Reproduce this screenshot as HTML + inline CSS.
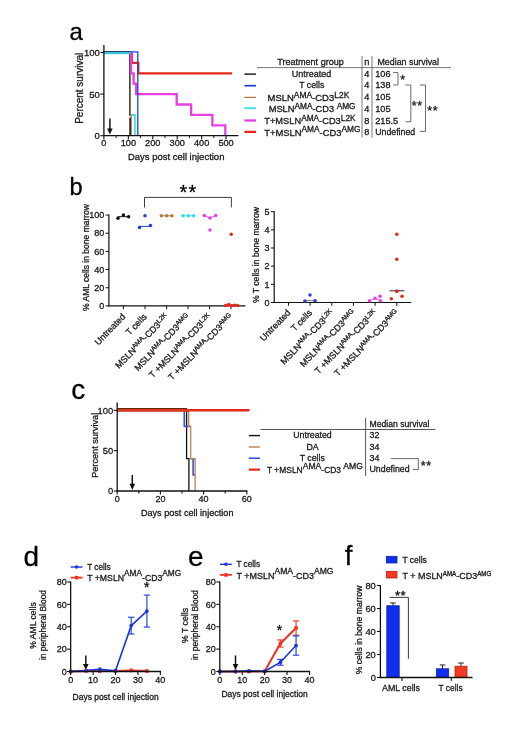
<!DOCTYPE html>
<html lang="en">
<head>
<meta charset="utf-8">
<title>Figure</title>
<style>
html,body{margin:0;padding:0;background:#ffffff;}
body{width:520px;height:751px;overflow:hidden;}
svg{display:block;font-family:"Liberation Sans", Arial, Helvetica, sans-serif;}
svg text{stroke:#1a1a1a;stroke-width:0.3px;paint-order:stroke fill;}
</style>
</head>
<body>
<svg width="520" height="751" viewBox="0 0 520 751">
<defs><filter id="soft" x="0" y="0" width="520" height="751" filterUnits="userSpaceOnUse" color-interpolation-filters="sRGB"><feGaussianBlur stdDeviation="0.4"/></filter></defs>
<rect x="0" y="0" width="520" height="751" fill="#ffffff"/>
<g filter="url(#soft)">
<rect x="0" y="0" width="520" height="751" fill="#ffffff"/>
<g id="panel-a">
<text x="69.5" y="39.5" font-size="24" text-anchor="start" fill="#000" >a</text>
<path d="M130.0,53.1 V114.9 H134.93 V135.7" stroke="#35dced" stroke-width="1.6" fill="none" stroke-linejoin="miter" stroke-linecap="butt"/>
<path d="M130.2,52.5 V114.9 H131.2 V135.7" stroke="#b5783f" stroke-width="1.3" fill="none" stroke-linejoin="miter" stroke-linecap="butt"/>
<path d="M129.7,52.5 V115.73" stroke="#3a3424" stroke-width="1.0" fill="none" stroke-linejoin="miter" stroke-linecap="butt"/>
<path d="M130.1,117.4 V135.7" stroke="#111111" stroke-width="1.5" fill="none" stroke-linejoin="miter" stroke-linecap="butt"/>
<path d="M131.8,52.5 V62.9 H138.3 V73.3 H232.16" stroke="#e6281a" stroke-width="2.3" fill="none" stroke-linejoin="miter" stroke-linecap="butt"/>
<path d="M131.1,51.7 V73.3 H133.6 V83.7 H136.2 V94.1 H176.7 V104.5 H191.12 V114.9 H212.37 V125.3 H225.32 V135.7" stroke="#e83fe3" stroke-width="2.3" fill="none" stroke-linejoin="miter" stroke-linecap="butt"/>
<path d="M103.9,51.8 H137.8 V135.7" stroke="#1f3fd6" stroke-width="1.3" fill="none" stroke-linejoin="miter" stroke-linecap="butt"/>
<line x1="103.9" y1="51.6" x2="130.2" y2="51.6" stroke="#1a2a55" stroke-width="1.0" stroke-linecap="butt"/>
<line x1="103.9" y1="53.05" x2="130.4" y2="53.05" stroke="#3fc4d8" stroke-width="2.3" stroke-linecap="butt"/>
<line x1="103.9" y1="45" x2="103.9" y2="136.29999999999998" stroke="#111111" stroke-width="1.3" stroke-linecap="butt"/>
<line x1="103.30000000000001" y1="135.7" x2="238.5" y2="135.7" stroke="#111111" stroke-width="1.3" stroke-linecap="butt"/>
<line x1="100.4" y1="52.5" x2="103.9" y2="52.5" stroke="#111111" stroke-width="1.1" stroke-linecap="butt"/>
<text x="99.9" y="55.9" font-size="9.6" text-anchor="end" fill="#1a1a1a" >100</text>
<line x1="100.4" y1="94.1" x2="103.9" y2="94.1" stroke="#111111" stroke-width="1.1" stroke-linecap="butt"/>
<text x="99.9" y="97.5" font-size="9.6" text-anchor="end" fill="#1a1a1a" >50</text>
<line x1="100.4" y1="135.7" x2="103.9" y2="135.7" stroke="#111111" stroke-width="1.1" stroke-linecap="butt"/>
<text x="99.9" y="139.1" font-size="9.6" text-anchor="end" fill="#1a1a1a" >0</text>
<line x1="116.12" y1="135.7" x2="116.12" y2="138.1" stroke="#111111" stroke-width="1.0" stroke-linecap="butt"/>
<line x1="140.55" y1="135.7" x2="140.55" y2="138.1" stroke="#111111" stroke-width="1.0" stroke-linecap="butt"/>
<line x1="164.97" y1="135.7" x2="164.97" y2="138.1" stroke="#111111" stroke-width="1.0" stroke-linecap="butt"/>
<line x1="189.41" y1="135.7" x2="189.41" y2="138.1" stroke="#111111" stroke-width="1.0" stroke-linecap="butt"/>
<line x1="213.84" y1="135.7" x2="213.84" y2="138.1" stroke="#111111" stroke-width="1.0" stroke-linecap="butt"/>
<line x1="103.9" y1="135.7" x2="103.9" y2="139.2" stroke="#111111" stroke-width="1.1" stroke-linecap="butt"/>
<text x="103.9" y="146.29999999999998" font-size="9.2" text-anchor="middle" fill="#1a1a1a" >0</text>
<line x1="128.33" y1="135.7" x2="128.33" y2="139.2" stroke="#111111" stroke-width="1.1" stroke-linecap="butt"/>
<text x="128.33" y="146.29999999999998" font-size="9.2" text-anchor="middle" fill="#1a1a1a" >100</text>
<line x1="152.76" y1="135.7" x2="152.76" y2="139.2" stroke="#111111" stroke-width="1.1" stroke-linecap="butt"/>
<text x="152.76" y="146.29999999999998" font-size="9.2" text-anchor="middle" fill="#1a1a1a" >200</text>
<line x1="177.19" y1="135.7" x2="177.19" y2="139.2" stroke="#111111" stroke-width="1.1" stroke-linecap="butt"/>
<text x="177.19" y="146.29999999999998" font-size="9.2" text-anchor="middle" fill="#1a1a1a" >300</text>
<line x1="201.62" y1="135.7" x2="201.62" y2="139.2" stroke="#111111" stroke-width="1.1" stroke-linecap="butt"/>
<text x="201.62" y="146.29999999999998" font-size="9.2" text-anchor="middle" fill="#1a1a1a" >400</text>
<line x1="226.05" y1="135.7" x2="226.05" y2="139.2" stroke="#111111" stroke-width="1.1" stroke-linecap="butt"/>
<text x="226.05" y="146.29999999999998" font-size="9.2" text-anchor="middle" fill="#1a1a1a" >500</text>
<text x="82.6" y="88.3" font-size="10" text-anchor="middle" fill="#1a1a1a" transform="rotate(-90 82.6 88.3)" textLength="71" lengthAdjust="spacingAndGlyphs" >Percent survival</text>
<text x="176.2" y="159.6" font-size="9.6" text-anchor="middle" fill="#1a1a1a" textLength="96.5" lengthAdjust="spacingAndGlyphs" >Days post cell injection</text>
<line x1="109.9" y1="118.5" x2="109.9" y2="129.4" stroke="#111111" stroke-width="1.5" stroke-linecap="butt"/>
<polygon points="107.10000000000001,128.4 112.7,128.4 109.9,134.6" fill="#111111"/>
<line x1="244.4" y1="74.1" x2="256" y2="74.1" stroke="#111111" stroke-width="1.4" stroke-linecap="butt"/>
<line x1="244.4" y1="85.7" x2="256" y2="85.7" stroke="#1f3fd6" stroke-width="1.7" stroke-linecap="butt"/>
<line x1="244.4" y1="97.4" x2="256" y2="97.4" stroke="#b5783f" stroke-width="1.3" stroke-linecap="butt"/>
<line x1="244.4" y1="108.2" x2="256" y2="108.2" stroke="#35dced" stroke-width="1.8" stroke-linecap="butt"/>
<line x1="244.4" y1="120.5" x2="256" y2="120.5" stroke="#e83fe3" stroke-width="2.3" stroke-linecap="butt"/>
<line x1="244.4" y1="131.9" x2="256" y2="131.9" stroke="#e6281a" stroke-width="2.3" stroke-linecap="butt"/>
<text x="310.5" y="64.8" font-size="9.2" text-anchor="middle" fill="#1a1a1a" textLength="66.5" lengthAdjust="spacingAndGlyphs" >Treatment group</text>
<text x="366.8" y="64.8" font-size="9.2" text-anchor="middle" fill="#1a1a1a" >n</text>
<text x="377.5" y="64.8" font-size="9.2" text-anchor="start" fill="#1a1a1a" textLength="61.5" lengthAdjust="spacingAndGlyphs" >Median survival</text>
<line x1="257" y1="67.6" x2="451" y2="67.6" stroke="#555" stroke-width="0.8" stroke-linecap="butt"/>
<line x1="362" y1="56" x2="362" y2="137.5" stroke="#555" stroke-width="0.8" stroke-linecap="butt"/>
<line x1="372" y1="56" x2="372" y2="137.5" stroke="#555" stroke-width="0.8" stroke-linecap="butt"/>
<text x="311.5" y="76.9" font-size="9.2" text-anchor="middle" fill="#1a1a1a" textLength="39.5" lengthAdjust="spacingAndGlyphs" >Untreated</text>
<text x="311.8" y="88.2" font-size="9.2" text-anchor="middle" fill="#1a1a1a" textLength="25" lengthAdjust="spacingAndGlyphs" >T cells</text>
<text x="308.4" y="100.69999999999999" font-size="9.2" text-anchor="middle" fill="#1a1a1a" textLength="81.8" lengthAdjust="spacingAndGlyphs" >MSLN<tspan font-size="8.2" dy="-3.2">AMA</tspan><tspan dy="3.2">-CD3</tspan><tspan font-size="8.2" dy="-3.2">L2K</tspan></text>
<text x="312.1" y="112.19999999999999" font-size="9.2" text-anchor="middle" fill="#1a1a1a" textLength="86.8" lengthAdjust="spacingAndGlyphs" >MSLN<tspan font-size="8.2" dy="-3.2">AMA</tspan><tspan dy="3.2">-CD3 </tspan><tspan font-size="8.2" dy="-3.2">AMG</tspan></text>
<text x="309.9" y="124.0" font-size="9.2" text-anchor="middle" fill="#1a1a1a" textLength="91.3" lengthAdjust="spacingAndGlyphs" >T+MSLN<tspan font-size="8.2" dy="-3.2">AMA</tspan><tspan dy="3.2">-CD3</tspan><tspan font-size="8.2" dy="-3.2">L2K</tspan></text>
<text x="312.4" y="135.5" font-size="9.2" text-anchor="middle" fill="#1a1a1a" textLength="96.3" lengthAdjust="spacingAndGlyphs" >T+MSLN<tspan font-size="8.2" dy="-3.2">AMA</tspan><tspan dy="3.2">-CD3</tspan><tspan font-size="8.2" dy="-3.2">AMG</tspan></text>
<text x="366.8" y="76.9" font-size="9.2" text-anchor="middle" fill="#1a1a1a" >4</text>
<text x="375.2" y="76.9" font-size="9.2" text-anchor="start" fill="#1a1a1a" >106</text>
<text x="366.8" y="88.2" font-size="9.2" text-anchor="middle" fill="#1a1a1a" >4</text>
<text x="375.2" y="88.2" font-size="9.2" text-anchor="start" fill="#1a1a1a" >138</text>
<text x="366.8" y="100.3" font-size="9.2" text-anchor="middle" fill="#1a1a1a" >4</text>
<text x="375.2" y="100.3" font-size="9.2" text-anchor="start" fill="#1a1a1a" >105</text>
<text x="366.8" y="111.8" font-size="9.2" text-anchor="middle" fill="#1a1a1a" >4</text>
<text x="375.2" y="111.8" font-size="9.2" text-anchor="start" fill="#1a1a1a" >105</text>
<text x="366.8" y="123.60000000000001" font-size="9.2" text-anchor="middle" fill="#1a1a1a" >8</text>
<text x="375.2" y="123.60000000000001" font-size="9.2" text-anchor="start" fill="#1a1a1a" >215.5</text>
<text x="366.8" y="135.1" font-size="9.2" text-anchor="middle" fill="#1a1a1a" >8</text>
<text x="375.2" y="135.1" font-size="9.2" text-anchor="start" fill="#1a1a1a" textLength="40" lengthAdjust="spacingAndGlyphs" >Undefined</text>
<path d="M393,72.6 H398 V85 H393" stroke="#444" stroke-width="0.8" fill="none" stroke-linejoin="miter" stroke-linecap="butt"/>
<text x="402.6" y="84.4" font-size="12.5" text-anchor="middle" fill="#1a1a1a" >*</text>
<path d="M405.5,85 H410.8 V121.8 H405.5" stroke="#444" stroke-width="0.8" fill="none" stroke-linejoin="miter" stroke-linecap="butt"/>
<text x="417.2" y="109.9" font-size="12.5" text-anchor="middle" fill="#1a1a1a" letter-spacing="0.6">**</text>
<path d="M420,85 H425.5 V131.4 H420" stroke="#444" stroke-width="0.8" fill="none" stroke-linejoin="miter" stroke-linecap="butt"/>
<text x="432.8" y="115.4" font-size="12.5" text-anchor="middle" fill="#1a1a1a" letter-spacing="0.6">**</text>
</g>
<g id="panel-b">
<text x="69.6" y="195.3" font-size="23.5" text-anchor="start" fill="#000" >b</text>
<line x1="108.9" y1="214.5" x2="108.9" y2="306.5" stroke="#111111" stroke-width="1.2" stroke-linecap="butt"/>
<line x1="108.30000000000001" y1="305.9" x2="245.5" y2="305.9" stroke="#111111" stroke-width="1.2" stroke-linecap="butt"/>
<line x1="105.60000000000001" y1="305.9" x2="108.9" y2="305.9" stroke="#111111" stroke-width="1.0" stroke-linecap="butt"/>
<text x="104.30000000000001" y="309.2" font-size="9" text-anchor="end" fill="#1a1a1a" >0</text>
<line x1="105.60000000000001" y1="287.72" x2="108.9" y2="287.72" stroke="#111111" stroke-width="1.0" stroke-linecap="butt"/>
<text x="104.30000000000001" y="291.02000000000004" font-size="9" text-anchor="end" fill="#1a1a1a" >20</text>
<line x1="105.60000000000001" y1="269.54" x2="108.9" y2="269.54" stroke="#111111" stroke-width="1.0" stroke-linecap="butt"/>
<text x="104.30000000000001" y="272.84000000000003" font-size="9" text-anchor="end" fill="#1a1a1a" >40</text>
<line x1="105.60000000000001" y1="251.36" x2="108.9" y2="251.36" stroke="#111111" stroke-width="1.0" stroke-linecap="butt"/>
<text x="104.30000000000001" y="254.66000000000003" font-size="9" text-anchor="end" fill="#1a1a1a" >60</text>
<line x1="105.60000000000001" y1="233.18" x2="108.9" y2="233.18" stroke="#111111" stroke-width="1.0" stroke-linecap="butt"/>
<text x="104.30000000000001" y="236.48000000000002" font-size="9" text-anchor="end" fill="#1a1a1a" >80</text>
<line x1="105.60000000000001" y1="215.0" x2="108.9" y2="215.0" stroke="#111111" stroke-width="1.0" stroke-linecap="butt"/>
<text x="104.30000000000001" y="218.3" font-size="9" text-anchor="end" fill="#1a1a1a" >100</text>
<line x1="123.4" y1="305.9" x2="123.4" y2="309.2" stroke="#111111" stroke-width="1.0" stroke-linecap="butt"/>
<line x1="145.0" y1="305.9" x2="145.0" y2="309.2" stroke="#111111" stroke-width="1.0" stroke-linecap="butt"/>
<line x1="166.6" y1="305.9" x2="166.6" y2="309.2" stroke="#111111" stroke-width="1.0" stroke-linecap="butt"/>
<line x1="188.0" y1="305.9" x2="188.0" y2="309.2" stroke="#111111" stroke-width="1.0" stroke-linecap="butt"/>
<line x1="209.5" y1="305.9" x2="209.5" y2="309.2" stroke="#111111" stroke-width="1.0" stroke-linecap="butt"/>
<line x1="231.0" y1="305.9" x2="231.0" y2="309.2" stroke="#111111" stroke-width="1.0" stroke-linecap="butt"/>
<text x="89.3" y="257.5" font-size="9" text-anchor="middle" fill="#1a1a1a" transform="rotate(-90 89.3 257.5)" textLength="107" lengthAdjust="spacingAndGlyphs" >% AML cells in bone marrow</text>
<line x1="117.5" y1="216.7" x2="129.5" y2="216.7" stroke="#111111" stroke-width="1.0" stroke-linecap="butt"/>
<circle cx="118" cy="218.2" r="1.75" fill="#111111"/>
<circle cx="123.4" cy="215" r="1.75" fill="#111111"/>
<circle cx="128.6" cy="216.8" r="1.75" fill="#111111"/>
<line x1="139" y1="226.4" x2="151" y2="226.4" stroke="#1f3fd6" stroke-width="1.0" stroke-linecap="butt"/>
<circle cx="145" cy="215.8" r="1.75" fill="#1f3fd6"/>
<circle cx="139.5" cy="227.5" r="1.75" fill="#1f3fd6"/>
<circle cx="150.5" cy="225.6" r="1.75" fill="#1f3fd6"/>
<line x1="161" y1="215.8" x2="172.3" y2="215.8" stroke="#b5783f" stroke-width="1.0" stroke-linecap="butt"/>
<circle cx="161.3" cy="215.8" r="1.75" fill="#b5783f"/>
<circle cx="166.7" cy="215.8" r="1.75" fill="#b5783f"/>
<circle cx="172" cy="215.8" r="1.75" fill="#b5783f"/>
<line x1="183" y1="215.8" x2="193.7" y2="215.8" stroke="#35dced" stroke-width="1.0" stroke-linecap="butt"/>
<circle cx="183" cy="215.8" r="1.75" fill="#35dced"/>
<circle cx="188.3" cy="215.8" r="1.75" fill="#35dced"/>
<circle cx="193.7" cy="215.8" r="1.75" fill="#35dced"/>
<path d="M204.3,215.5 L210,218 L215.7,215.5" stroke="#e83fe3" stroke-width="1.0" fill="none" stroke-linejoin="miter" stroke-linecap="butt"/>
<circle cx="204.3" cy="215.5" r="1.75" fill="#e83fe3"/>
<circle cx="210" cy="218" r="1.75" fill="#e83fe3"/>
<circle cx="215.7" cy="215.5" r="1.75" fill="#e83fe3"/>
<circle cx="210" cy="230" r="1.75" fill="#e83fe3"/>
<line x1="225" y1="305.8" x2="238" y2="305.8" stroke="#e6281a" stroke-width="1.0" stroke-linecap="butt"/>
<circle cx="231.2" cy="234.3" r="1.75" fill="#e6281a"/>
<circle cx="225.5" cy="305.6" r="1.75" fill="#e6281a"/>
<circle cx="228.7" cy="304.4" r="1.75" fill="#e6281a"/>
<circle cx="231.8" cy="305.6" r="1.75" fill="#e6281a"/>
<circle cx="234.6" cy="305.2" r="1.75" fill="#e6281a"/>
<circle cx="237.6" cy="305.6" r="1.75" fill="#e6281a"/>
<path d="M144.5,207.5 V197.4 H231.4 V207.5" stroke="#2a2a2a" stroke-width="0.9" fill="none" stroke-linejoin="miter" stroke-linecap="butt"/>
<text x="188.6" y="198.6" font-size="20" text-anchor="middle" fill="#000" letter-spacing="1.3">**</text>
<text x="125.9" y="317.2" font-size="9.0" text-anchor="end" fill="#1a1a1a" transform="rotate(-46 125.9 317.2)" >Untreated</text>
<text x="147.5" y="317.2" font-size="9.0" text-anchor="end" fill="#1a1a1a" transform="rotate(-46 147.5 317.2)" >T cells</text>
<text x="169.1" y="317.2" font-size="9.0" text-anchor="end" fill="#1a1a1a" transform="rotate(-46 169.1 317.2)" >MSLN<tspan font-size="6.6" dy="-2.8">AMA</tspan><tspan dy="2.8">-CD3</tspan><tspan font-size="6.6" dy="-2.8">L2K</tspan></text>
<text x="190.5" y="317.2" font-size="9.0" text-anchor="end" fill="#1a1a1a" transform="rotate(-46 190.5 317.2)" >MSLN<tspan font-size="6.6" dy="-2.8">AMA</tspan><tspan dy="2.8">-CD3</tspan><tspan font-size="6.6" dy="-2.8">AMG</tspan></text>
<text x="212.0" y="317.2" font-size="9.0" text-anchor="end" fill="#1a1a1a" transform="rotate(-46 212.0 317.2)" >T +MSLN<tspan font-size="6.6" dy="-2.8">AMA</tspan><tspan dy="2.8">-CD3</tspan><tspan font-size="6.6" dy="-2.8">L2K</tspan></text>
<text x="233.5" y="317.2" font-size="9.0" text-anchor="end" fill="#1a1a1a" transform="rotate(-46 233.5 317.2)" >T +MSLN<tspan font-size="6.6" dy="-2.8">AMA</tspan><tspan dy="2.8">-CD3</tspan><tspan font-size="6.6" dy="-2.8">AMG</tspan></text>
<line x1="274.2" y1="211.15" x2="274.2" y2="303.1" stroke="#111111" stroke-width="1.2" stroke-linecap="butt"/>
<line x1="273.59999999999997" y1="302.5" x2="411.3" y2="302.5" stroke="#111111" stroke-width="1.2" stroke-linecap="butt"/>
<line x1="270.9" y1="302.5" x2="274.2" y2="302.5" stroke="#111111" stroke-width="1.0" stroke-linecap="butt"/>
<text x="269.4" y="305.7" font-size="9" text-anchor="end" fill="#1a1a1a" >0</text>
<line x1="270.9" y1="284.33" x2="274.2" y2="284.33" stroke="#111111" stroke-width="1.0" stroke-linecap="butt"/>
<text x="269.4" y="287.53" font-size="9" text-anchor="end" fill="#1a1a1a" >1</text>
<line x1="270.9" y1="266.16" x2="274.2" y2="266.16" stroke="#111111" stroke-width="1.0" stroke-linecap="butt"/>
<text x="269.4" y="269.36" font-size="9" text-anchor="end" fill="#1a1a1a" >2</text>
<line x1="270.9" y1="247.99" x2="274.2" y2="247.99" stroke="#111111" stroke-width="1.0" stroke-linecap="butt"/>
<text x="269.4" y="251.19" font-size="9" text-anchor="end" fill="#1a1a1a" >3</text>
<line x1="270.9" y1="229.82" x2="274.2" y2="229.82" stroke="#111111" stroke-width="1.0" stroke-linecap="butt"/>
<text x="269.4" y="233.01999999999998" font-size="9" text-anchor="end" fill="#1a1a1a" >4</text>
<line x1="270.9" y1="211.65" x2="274.2" y2="211.65" stroke="#111111" stroke-width="1.0" stroke-linecap="butt"/>
<text x="269.4" y="214.85" font-size="9" text-anchor="end" fill="#1a1a1a" >5</text>
<line x1="288.5" y1="302.5" x2="288.5" y2="305.8" stroke="#111111" stroke-width="1.0" stroke-linecap="butt"/>
<line x1="310.1" y1="302.5" x2="310.1" y2="305.8" stroke="#111111" stroke-width="1.0" stroke-linecap="butt"/>
<line x1="331.8" y1="302.5" x2="331.8" y2="305.8" stroke="#111111" stroke-width="1.0" stroke-linecap="butt"/>
<line x1="353.4" y1="302.5" x2="353.4" y2="305.8" stroke="#111111" stroke-width="1.0" stroke-linecap="butt"/>
<line x1="375.1" y1="302.5" x2="375.1" y2="305.8" stroke="#111111" stroke-width="1.0" stroke-linecap="butt"/>
<line x1="396.8" y1="302.5" x2="396.8" y2="305.8" stroke="#111111" stroke-width="1.0" stroke-linecap="butt"/>
<text x="259.3" y="255" font-size="8.6" text-anchor="middle" fill="#1a1a1a" transform="rotate(-90 259.3 255)" textLength="96" lengthAdjust="spacingAndGlyphs" >% T cells in bone marrow</text>
<line x1="303" y1="300.6" x2="317" y2="300.6" stroke="#8a7a6a" stroke-width="1.0" stroke-linecap="butt"/>
<circle cx="310" cy="295" r="1.75" fill="#1f3fd6"/>
<circle cx="305" cy="301.0" r="1.75" fill="#1f3fd6"/>
<circle cx="315" cy="300.7" r="1.75" fill="#1f3fd6"/>
<circle cx="369.5" cy="300.8" r="1.75" fill="#e83fe3"/>
<circle cx="375" cy="298.3" r="1.75" fill="#e83fe3"/>
<circle cx="380" cy="296.3" r="1.75" fill="#e83fe3"/>
<circle cx="380.6" cy="300.8" r="1.75" fill="#e83fe3"/>
<path d="M369.5,300.8 L375,298.3 L380.6,300.8" stroke="#e83fe3" stroke-width="0.9" fill="none" stroke-linejoin="miter" stroke-linecap="butt"/>
<line x1="389.5" y1="290.8" x2="404.3" y2="290.8" stroke="#222" stroke-width="1.0" stroke-linecap="butt"/>
<circle cx="396.8" cy="234.3" r="1.75" fill="#e6281a"/>
<circle cx="396.8" cy="259.3" r="1.75" fill="#e6281a"/>
<circle cx="396.8" cy="291.3" r="1.75" fill="#e6281a"/>
<circle cx="391.3" cy="298.8" r="1.75" fill="#e6281a"/>
<circle cx="402" cy="296.3" r="1.75" fill="#e6281a"/>
<circle cx="396.8" cy="291.3" r="1.75" fill="#e6281a"/>
<text x="291.1" y="313.2" font-size="9.0" text-anchor="end" fill="#1a1a1a" transform="rotate(-46 291.1 313.2)" >Untreated</text>
<text x="312.7" y="313.2" font-size="9.0" text-anchor="end" fill="#1a1a1a" transform="rotate(-46 312.7 313.2)" >T cells</text>
<text x="334.4" y="313.2" font-size="9.0" text-anchor="end" fill="#1a1a1a" transform="rotate(-46 334.4 313.2)" >MSLN<tspan font-size="6.6" dy="-2.8">AMA</tspan><tspan dy="2.8">-CD3</tspan><tspan font-size="6.6" dy="-2.8">L2K</tspan></text>
<text x="356.0" y="313.2" font-size="9.0" text-anchor="end" fill="#1a1a1a" transform="rotate(-46 356.0 313.2)" >MSLN<tspan font-size="6.6" dy="-2.8">AMA</tspan><tspan dy="2.8">-CD3</tspan><tspan font-size="6.6" dy="-2.8">AMG</tspan></text>
<text x="377.7" y="313.2" font-size="9.0" text-anchor="end" fill="#1a1a1a" transform="rotate(-46 377.7 313.2)" >T +MSLN<tspan font-size="6.6" dy="-2.8">AMA</tspan><tspan dy="2.8">-CD3</tspan><tspan font-size="6.6" dy="-2.8">L2K</tspan></text>
<text x="399.4" y="313.2" font-size="9.0" text-anchor="end" fill="#1a1a1a" transform="rotate(-46 399.4 313.2)" >T +MSLN<tspan font-size="6.6" dy="-2.8">AMA</tspan><tspan dy="2.8">-CD3</tspan><tspan font-size="6.6" dy="-2.8">AMG</tspan></text>
</g>
<g id="panel-c">
<text x="71.2" y="399.1" font-size="28" text-anchor="start" fill="#000" >c</text>
<path d="M117.2,410.3 H186.6 V458.72 H188.9 V491.0" stroke="#111111" stroke-width="1.3" fill="none" stroke-linejoin="miter" stroke-linecap="butt"/>
<path d="M117.2,410.3 H184.3 V426.44 H190.2" stroke="#3b55d8" stroke-width="1.7" fill="none" stroke-linejoin="miter" stroke-linecap="butt"/>
<path d="M190.8,458.72 H193.1 V474.86 H195" stroke="#3b55d8" stroke-width="1.6" fill="none" stroke-linejoin="miter" stroke-linecap="butt"/>
<path d="M117.2,410.3 H188.7 V426.44 H190.7 V458.72 H195.1 V491.0" stroke="#b5783f" stroke-width="1.2" fill="none" stroke-linejoin="miter" stroke-linecap="butt"/>
<line x1="117.2" y1="408.8" x2="187.2" y2="408.8" stroke="#6e2414" stroke-width="1.4" stroke-linecap="butt"/>
<line x1="117.2" y1="410.3" x2="249.5" y2="410.3" stroke="#e6281a" stroke-width="2.5" stroke-linecap="butt"/>
<line x1="117.2" y1="410.4" x2="189.5" y2="410.4" stroke="#d2401c" stroke-width="2.4" stroke-linecap="butt"/>
<line x1="117.2" y1="402.5" x2="117.2" y2="491.6" stroke="#111111" stroke-width="1.3" stroke-linecap="butt"/>
<line x1="116.60000000000001" y1="491.0" x2="247.4" y2="491.0" stroke="#111111" stroke-width="1.3" stroke-linecap="butt"/>
<line x1="113.7" y1="491.0" x2="117.2" y2="491.0" stroke="#111111" stroke-width="1.1" stroke-linecap="butt"/>
<text x="113.2" y="494.3" font-size="9.4" text-anchor="end" fill="#1a1a1a" >0</text>
<line x1="113.7" y1="450.65" x2="117.2" y2="450.65" stroke="#111111" stroke-width="1.1" stroke-linecap="butt"/>
<text x="113.2" y="453.95" font-size="9.4" text-anchor="end" fill="#1a1a1a" >50</text>
<line x1="113.7" y1="410.3" x2="117.2" y2="410.3" stroke="#111111" stroke-width="1.1" stroke-linecap="butt"/>
<text x="113.2" y="413.6" font-size="9.4" text-anchor="end" fill="#1a1a1a" >100</text>
<line x1="117.2" y1="491.0" x2="117.2" y2="494.5" stroke="#111111" stroke-width="1.1" stroke-linecap="butt"/>
<text x="117.2" y="501.9" font-size="9.0" text-anchor="middle" fill="#1a1a1a" >0</text>
<line x1="138.8" y1="491.0" x2="138.8" y2="493.6" stroke="#111111" stroke-width="1.1" stroke-linecap="butt"/>
<line x1="160.4" y1="491.0" x2="160.4" y2="494.5" stroke="#111111" stroke-width="1.1" stroke-linecap="butt"/>
<text x="160.4" y="501.9" font-size="9.0" text-anchor="middle" fill="#1a1a1a" >20</text>
<line x1="182.0" y1="491.0" x2="182.0" y2="493.6" stroke="#111111" stroke-width="1.1" stroke-linecap="butt"/>
<line x1="203.6" y1="491.0" x2="203.6" y2="494.5" stroke="#111111" stroke-width="1.1" stroke-linecap="butt"/>
<text x="203.6" y="501.9" font-size="9.0" text-anchor="middle" fill="#1a1a1a" >40</text>
<line x1="225.2" y1="491.0" x2="225.2" y2="493.6" stroke="#111111" stroke-width="1.1" stroke-linecap="butt"/>
<line x1="246.8" y1="491.0" x2="246.8" y2="494.5" stroke="#111111" stroke-width="1.1" stroke-linecap="butt"/>
<text x="246.8" y="501.9" font-size="9.0" text-anchor="middle" fill="#1a1a1a" >60</text>
<text x="97.6" y="445.3" font-size="9.4" text-anchor="middle" fill="#1a1a1a" transform="rotate(-90 97.6 445.3)" textLength="65" lengthAdjust="spacingAndGlyphs" >Percent survival</text>
<text x="187.2" y="515.7" font-size="9.2" text-anchor="middle" fill="#1a1a1a" textLength="92.5" lengthAdjust="spacingAndGlyphs" >Days post cell injection</text>
<line x1="132.3" y1="475" x2="132.3" y2="484.8" stroke="#111111" stroke-width="1.5" stroke-linecap="butt"/>
<polygon points="129.5,483.8 135.10000000000002,483.8 132.3,490" fill="#111111"/>
<line x1="248.8" y1="435.6" x2="260" y2="435.6" stroke="#111111" stroke-width="1.4" stroke-linecap="butt"/>
<line x1="248.8" y1="447" x2="260" y2="447" stroke="#b5783f" stroke-width="1.3" stroke-linecap="butt"/>
<line x1="248.8" y1="458.2" x2="260" y2="458.2" stroke="#1f3fd6" stroke-width="1.4" stroke-linecap="butt"/>
<line x1="248.8" y1="469.6" x2="260" y2="469.6" stroke="#e6281a" stroke-width="2.2" stroke-linecap="butt"/>
<line x1="260.5" y1="429.5" x2="435.3" y2="429.5" stroke="#444" stroke-width="0.9" stroke-linecap="butt"/>
<line x1="365.6" y1="418" x2="365.6" y2="476" stroke="#444" stroke-width="0.9" stroke-linecap="butt"/>
<text x="369.5" y="426.8" font-size="8.8" text-anchor="start" fill="#1a1a1a" textLength="60" lengthAdjust="spacingAndGlyphs" >Median survival</text>
<text x="312.5" y="438.3" font-size="8.8" text-anchor="middle" fill="#1a1a1a" textLength="38.5" lengthAdjust="spacingAndGlyphs" >Untreated</text>
<text x="312.5" y="449.70000000000005" font-size="8.8" text-anchor="middle" fill="#1a1a1a" >DA</text>
<text x="312.3" y="460.90000000000003" font-size="8.8" text-anchor="middle" fill="#1a1a1a" >T cells</text>
<text x="315" y="472.8" font-size="8.8" text-anchor="middle" fill="#1a1a1a" textLength="96" lengthAdjust="spacingAndGlyphs" >T +MSLN<tspan font-size="9.0" dy="-4.3">AMA</tspan><tspan dy="4.3">-CD3 </tspan><tspan font-size="9.0" dy="-4.3">AMG</tspan></text>
<text x="369.5" y="438.3" font-size="8.8" text-anchor="start" fill="#1a1a1a" >32</text>
<text x="369.5" y="449.70000000000005" font-size="8.8" text-anchor="start" fill="#1a1a1a" >34</text>
<text x="369.5" y="460.90000000000003" font-size="8.8" text-anchor="start" fill="#1a1a1a" >34</text>
<text x="369.5" y="472.3" font-size="8.8" text-anchor="start" fill="#1a1a1a" >Undefined</text>
<path d="M390.8,458.6 H418.3 V469.6 H413" stroke="#444" stroke-width="0.8" fill="none" stroke-linejoin="miter" stroke-linecap="butt"/>
<text x="426.2" y="470.3" font-size="12.5" text-anchor="middle" fill="#1a1a1a" letter-spacing="0.6">**</text>
</g>
<g id="panel-d">
<text x="23.6" y="565.6" font-size="28" text-anchor="start" fill="#000" >d</text>
<path d="M70.65,671.5 L86.35,670.94 L99.81,671.05 L115.51,670.94 L131.21,670.38 L146.91,671.05" stroke="#ea3323" stroke-width="2.0" fill="none" stroke-linejoin="round" stroke-linecap="butt"/>
<rect x="68.85" y="669.7" width="3.6" height="3.6" fill="#ea3323"/>
<rect x="84.55" y="669.14" width="3.6" height="3.6" fill="#ea3323"/>
<rect x="98.01" y="669.25" width="3.6" height="3.6" fill="#ea3323"/>
<rect x="113.71" y="669.14" width="3.6" height="3.6" fill="#ea3323"/>
<rect x="129.41" y="668.58" width="3.6" height="3.6" fill="#ea3323"/>
<rect x="145.11" y="669.25" width="3.6" height="3.6" fill="#ea3323"/>
<path d="M70.65,671.5 L99.81,669.26 L115.51,670.83 L131.21,625.62 L146.91,611.07" stroke="#1a36e0" stroke-width="1.6" fill="none" stroke-linejoin="round" stroke-linecap="butt"/>
<circle cx="70.65" cy="671.5" r="1.9" fill="#1a36e0"/>
<circle cx="99.81" cy="669.26" r="1.9" fill="#1a36e0"/>
<circle cx="115.51" cy="670.83" r="1.9" fill="#1a36e0"/>
<line x1="131.21" y1="617.23" x2="131.21" y2="634.01" stroke="#1a36e0" stroke-width="1.1" stroke-linecap="butt"/>
<line x1="128.01000000000002" y1="617.23" x2="134.41" y2="617.23" stroke="#1a36e0" stroke-width="1.1" stroke-linecap="butt"/>
<line x1="128.01000000000002" y1="634.01" x2="134.41" y2="634.01" stroke="#1a36e0" stroke-width="1.1" stroke-linecap="butt"/>
<circle cx="131.21" cy="625.62" r="1.9" fill="#1a36e0"/>
<line x1="146.91" y1="595.07" x2="146.91" y2="627.08" stroke="#1a36e0" stroke-width="1.1" stroke-linecap="butt"/>
<line x1="143.71" y1="595.07" x2="150.10999999999999" y2="595.07" stroke="#1a36e0" stroke-width="1.1" stroke-linecap="butt"/>
<line x1="143.71" y1="627.08" x2="150.10999999999999" y2="627.08" stroke="#1a36e0" stroke-width="1.1" stroke-linecap="butt"/>
<circle cx="146.91" cy="611.07" r="1.9" fill="#1a36e0"/>
<line x1="70.65" y1="581.48" x2="70.65" y2="672.1" stroke="#111111" stroke-width="1.3" stroke-linecap="butt"/>
<line x1="70.05000000000001" y1="671.5" x2="160.97" y2="671.5" stroke="#111111" stroke-width="1.3" stroke-linecap="butt"/>
<line x1="67.15" y1="671.5" x2="70.65" y2="671.5" stroke="#111111" stroke-width="1.1" stroke-linecap="butt"/>
<text x="66.65" y="674.7" font-size="9" text-anchor="end" fill="#1a1a1a" >0</text>
<line x1="67.15" y1="649.12" x2="70.65" y2="649.12" stroke="#111111" stroke-width="1.1" stroke-linecap="butt"/>
<text x="66.65" y="652.32" font-size="9" text-anchor="end" fill="#1a1a1a" >20</text>
<line x1="67.15" y1="626.74" x2="70.65" y2="626.74" stroke="#111111" stroke-width="1.1" stroke-linecap="butt"/>
<text x="66.65" y="629.94" font-size="9" text-anchor="end" fill="#1a1a1a" >40</text>
<line x1="67.15" y1="604.36" x2="70.65" y2="604.36" stroke="#111111" stroke-width="1.1" stroke-linecap="butt"/>
<text x="66.65" y="607.5600000000001" font-size="9" text-anchor="end" fill="#1a1a1a" >60</text>
<line x1="67.15" y1="581.98" x2="70.65" y2="581.98" stroke="#111111" stroke-width="1.1" stroke-linecap="butt"/>
<text x="66.65" y="585.1800000000001" font-size="9" text-anchor="end" fill="#1a1a1a" >80</text>
<line x1="70.65" y1="671.5" x2="70.65" y2="675.0" stroke="#111111" stroke-width="1.1" stroke-linecap="butt"/>
<text x="70.65" y="683.2" font-size="9" text-anchor="middle" fill="#1a1a1a" >0</text>
<line x1="93.08" y1="671.5" x2="93.08" y2="675.0" stroke="#111111" stroke-width="1.1" stroke-linecap="butt"/>
<text x="93.08" y="683.2" font-size="9" text-anchor="middle" fill="#1a1a1a" >10</text>
<line x1="115.51" y1="671.5" x2="115.51" y2="675.0" stroke="#111111" stroke-width="1.1" stroke-linecap="butt"/>
<text x="115.51" y="683.2" font-size="9" text-anchor="middle" fill="#1a1a1a" >20</text>
<line x1="137.94" y1="671.5" x2="137.94" y2="675.0" stroke="#111111" stroke-width="1.1" stroke-linecap="butt"/>
<text x="137.94" y="683.2" font-size="9" text-anchor="middle" fill="#1a1a1a" >30</text>
<line x1="160.37" y1="671.5" x2="160.37" y2="675.0" stroke="#111111" stroke-width="1.1" stroke-linecap="butt"/>
<text x="160.37" y="683.2" font-size="9" text-anchor="middle" fill="#1a1a1a" >40</text>
<text x="115.6" y="699.7" font-size="8.6" text-anchor="middle" fill="#1a1a1a" textLength="86" lengthAdjust="spacingAndGlyphs" >Days post cell injection</text>
<text x="36.3" y="625.5" font-size="8.5" text-anchor="middle" fill="#1a1a1a" transform="rotate(-90 36.3 625.5)" textLength="46.5" lengthAdjust="spacingAndGlyphs" >% AML cells</text>
<text x="45.8" y="625" font-size="8.5" text-anchor="middle" fill="#1a1a1a" transform="rotate(-90 45.8 625)" textLength="70" lengthAdjust="spacingAndGlyphs" >in peripheral Blood</text>
<line x1="85.8" y1="655.5" x2="85.8" y2="664.9" stroke="#111111" stroke-width="1.5" stroke-linecap="butt"/>
<polygon points="83.0,663.9 88.6,663.9 85.8,670.1" fill="#111111"/>
<text x="146.8" y="592.1" font-size="14" text-anchor="middle" fill="#000" >*</text>
<line x1="70.7" y1="567" x2="82.5" y2="567" stroke="#1a36e0" stroke-width="1.4" stroke-linecap="butt"/>
<circle cx="76.60000000000001" cy="567" r="1.8" fill="#1a36e0"/>
<text x="87.2" y="570.1" font-size="8.8" text-anchor="start" fill="#1a1a1a" textLength="23.5" lengthAdjust="spacingAndGlyphs" >T cells</text>
<line x1="70.7" y1="577.6" x2="82.5" y2="577.6" stroke="#ea3323" stroke-width="1.8" stroke-linecap="butt"/>
<rect x="74.9" y="575.9" width="3.5" height="3.5" fill="#ea3323"/>
<text x="87.2" y="581.4" font-size="8.8" text-anchor="start" fill="#1a1a1a" textLength="94" lengthAdjust="spacingAndGlyphs" >T +MSLN<tspan font-size="8.4" dy="-5.0">AMA</tspan><tspan dy="5.0">-CD3</tspan><tspan font-size="8.4" dy="-5.0">AMG</tspan></text>
</g>
<g id="panel-e">
<text x="188" y="565.6" font-size="28" text-anchor="start" fill="#000" >e</text>
<path d="M219.8,671.5 L235.5,671.5 L248.96,671.5 L264.66,671.28 L280.36,643.52 L296.06,628.08" stroke="#ea3323" stroke-width="2.0" fill="none" stroke-linejoin="round" stroke-linecap="butt"/>
<rect x="218.0" y="669.7" width="3.6" height="3.6" fill="#ea3323"/>
<rect x="233.7" y="669.7" width="3.6" height="3.6" fill="#ea3323"/>
<rect x="247.16" y="669.7" width="3.6" height="3.6" fill="#ea3323"/>
<rect x="262.86" y="669.48" width="3.6" height="3.6" fill="#ea3323"/>
<line x1="280.36" y1="639.94" x2="280.36" y2="647.11" stroke="#ea3323" stroke-width="1.1" stroke-linecap="butt"/>
<line x1="277.16" y1="639.94" x2="283.56" y2="639.94" stroke="#ea3323" stroke-width="1.1" stroke-linecap="butt"/>
<line x1="277.16" y1="647.11" x2="283.56" y2="647.11" stroke="#ea3323" stroke-width="1.1" stroke-linecap="butt"/>
<rect x="278.56" y="641.72" width="3.6" height="3.6" fill="#ea3323"/>
<line x1="296.06" y1="620.92" x2="296.06" y2="635.24" stroke="#ea3323" stroke-width="1.1" stroke-linecap="butt"/>
<line x1="292.86" y1="620.92" x2="299.26" y2="620.92" stroke="#ea3323" stroke-width="1.1" stroke-linecap="butt"/>
<line x1="292.86" y1="635.24" x2="299.26" y2="635.24" stroke="#ea3323" stroke-width="1.1" stroke-linecap="butt"/>
<rect x="294.26" y="626.28" width="3.6" height="3.6" fill="#ea3323"/>
<path d="M219.8,671.5 L235.5,671.5 L248.96,670.83 L264.66,671.28 L280.36,662.32 L296.06,645.54" stroke="#1a36e0" stroke-width="1.6" fill="none" stroke-linejoin="round" stroke-linecap="butt"/>
<circle cx="219.8" cy="671.5" r="1.9" fill="#1a36e0"/>
<circle cx="235.5" cy="671.5" r="1.9" fill="#1a36e0"/>
<circle cx="248.96" cy="670.83" r="1.9" fill="#1a36e0"/>
<circle cx="264.66" cy="671.28" r="1.9" fill="#1a36e0"/>
<line x1="280.36" y1="659.41" x2="280.36" y2="665.23" stroke="#1a36e0" stroke-width="1.1" stroke-linecap="butt"/>
<line x1="277.16" y1="659.41" x2="283.56" y2="659.41" stroke="#1a36e0" stroke-width="1.1" stroke-linecap="butt"/>
<line x1="277.16" y1="665.23" x2="283.56" y2="665.23" stroke="#1a36e0" stroke-width="1.1" stroke-linecap="butt"/>
<circle cx="280.36" cy="662.32" r="1.9" fill="#1a36e0"/>
<line x1="296.06" y1="635.92" x2="296.06" y2="655.16" stroke="#1a36e0" stroke-width="1.1" stroke-linecap="butt"/>
<line x1="292.86" y1="635.92" x2="299.26" y2="635.92" stroke="#1a36e0" stroke-width="1.1" stroke-linecap="butt"/>
<line x1="292.86" y1="655.16" x2="299.26" y2="655.16" stroke="#1a36e0" stroke-width="1.1" stroke-linecap="butt"/>
<circle cx="296.06" cy="645.54" r="1.9" fill="#1a36e0"/>
<line x1="219.8" y1="581.48" x2="219.8" y2="672.1" stroke="#111111" stroke-width="1.3" stroke-linecap="butt"/>
<line x1="219.20000000000002" y1="671.5" x2="310.12" y2="671.5" stroke="#111111" stroke-width="1.3" stroke-linecap="butt"/>
<line x1="216.3" y1="671.5" x2="219.8" y2="671.5" stroke="#111111" stroke-width="1.1" stroke-linecap="butt"/>
<text x="215.8" y="674.7" font-size="9" text-anchor="end" fill="#1a1a1a" >0</text>
<line x1="216.3" y1="649.12" x2="219.8" y2="649.12" stroke="#111111" stroke-width="1.1" stroke-linecap="butt"/>
<text x="215.8" y="652.32" font-size="9" text-anchor="end" fill="#1a1a1a" >20</text>
<line x1="216.3" y1="626.74" x2="219.8" y2="626.74" stroke="#111111" stroke-width="1.1" stroke-linecap="butt"/>
<text x="215.8" y="629.94" font-size="9" text-anchor="end" fill="#1a1a1a" >40</text>
<line x1="216.3" y1="604.36" x2="219.8" y2="604.36" stroke="#111111" stroke-width="1.1" stroke-linecap="butt"/>
<text x="215.8" y="607.5600000000001" font-size="9" text-anchor="end" fill="#1a1a1a" >60</text>
<line x1="216.3" y1="581.98" x2="219.8" y2="581.98" stroke="#111111" stroke-width="1.1" stroke-linecap="butt"/>
<text x="215.8" y="585.1800000000001" font-size="9" text-anchor="end" fill="#1a1a1a" >80</text>
<line x1="219.8" y1="671.5" x2="219.8" y2="675.0" stroke="#111111" stroke-width="1.1" stroke-linecap="butt"/>
<text x="219.8" y="683.2" font-size="9" text-anchor="middle" fill="#1a1a1a" >0</text>
<line x1="242.23" y1="671.5" x2="242.23" y2="675.0" stroke="#111111" stroke-width="1.1" stroke-linecap="butt"/>
<text x="242.23" y="683.2" font-size="9" text-anchor="middle" fill="#1a1a1a" >10</text>
<line x1="264.66" y1="671.5" x2="264.66" y2="675.0" stroke="#111111" stroke-width="1.1" stroke-linecap="butt"/>
<text x="264.66" y="683.2" font-size="9" text-anchor="middle" fill="#1a1a1a" >20</text>
<line x1="287.09" y1="671.5" x2="287.09" y2="675.0" stroke="#111111" stroke-width="1.1" stroke-linecap="butt"/>
<text x="287.09" y="683.2" font-size="9" text-anchor="middle" fill="#1a1a1a" >30</text>
<line x1="309.52" y1="671.5" x2="309.52" y2="675.0" stroke="#111111" stroke-width="1.1" stroke-linecap="butt"/>
<text x="309.52" y="683.2" font-size="9" text-anchor="middle" fill="#1a1a1a" >40</text>
<text x="264.6" y="697.2" font-size="8.6" text-anchor="middle" fill="#1a1a1a" textLength="86.3" lengthAdjust="spacingAndGlyphs" >Days post cell injection</text>
<text x="187.6" y="625.5" font-size="8.5" text-anchor="middle" fill="#1a1a1a" transform="rotate(-90 187.6 625.5)" textLength="35" lengthAdjust="spacingAndGlyphs" >% T cells</text>
<text x="197.8" y="625" font-size="8.5" text-anchor="middle" fill="#1a1a1a" transform="rotate(-90 197.8 625)" textLength="70" lengthAdjust="spacingAndGlyphs" >in peripheral Blood</text>
<line x1="235.5" y1="655.5" x2="235.5" y2="664.9" stroke="#111111" stroke-width="1.5" stroke-linecap="butt"/>
<polygon points="232.7,663.9 238.3,663.9 235.5,670.1" fill="#111111"/>
<text x="279.6" y="635.1" font-size="14" text-anchor="middle" fill="#000" >*</text>
<line x1="220" y1="564.3" x2="231.8" y2="564.3" stroke="#1a36e0" stroke-width="1.4" stroke-linecap="butt"/>
<circle cx="225.9" cy="564.3" r="1.8" fill="#1a36e0"/>
<text x="236.5" y="567.4" font-size="8.8" text-anchor="start" fill="#1a1a1a" textLength="23.5" lengthAdjust="spacingAndGlyphs" >T cells</text>
<line x1="220" y1="574.9" x2="231.8" y2="574.9" stroke="#ea3323" stroke-width="1.8" stroke-linecap="butt"/>
<rect x="224.2" y="573.1999999999999" width="3.5" height="3.5" fill="#ea3323"/>
<text x="236.5" y="578.6999999999999" font-size="8.8" text-anchor="start" fill="#1a1a1a" textLength="97" lengthAdjust="spacingAndGlyphs" >T +MSLN<tspan font-size="8.4" dy="-5.0">AMA</tspan><tspan dy="5.0">-CD3</tspan><tspan font-size="8.4" dy="-5.0">AMG</tspan></text>
</g>
<g id="panel-f">
<text x="344.7" y="565.4" font-size="27.5" text-anchor="start" fill="#000" >f</text>
<line x1="393.0" y1="602.98" x2="393.0" y2="605.74" stroke="#222" stroke-width="1.0" stroke-linecap="butt"/>
<line x1="390.2" y1="602.98" x2="395.8" y2="602.98" stroke="#222" stroke-width="1.0" stroke-linecap="butt"/>
<rect x="386.8" y="605.74" width="12.4" height="71.76" fill="#0e2ef0" stroke="#1022a8" stroke-width="0.8"/>
<line x1="442.5" y1="664.97" x2="442.5" y2="668.76" stroke="#222" stroke-width="1.0" stroke-linecap="butt"/>
<line x1="439.7" y1="664.97" x2="445.3" y2="664.97" stroke="#222" stroke-width="1.0" stroke-linecap="butt"/>
<rect x="436.3" y="668.76" width="12.4" height="8.74" fill="#0e2ef0" stroke="#1022a8" stroke-width="0.8"/>
<line x1="461.0" y1="663.01" x2="461.0" y2="666.23" stroke="#222" stroke-width="1.0" stroke-linecap="butt"/>
<line x1="458.2" y1="663.01" x2="463.8" y2="663.01" stroke="#222" stroke-width="1.0" stroke-linecap="butt"/>
<rect x="455.0" y="666.23" width="12.0" height="11.27" fill="#f03a22" stroke="#b82010" stroke-width="0.8"/>
<line x1="380.4" y1="585.0" x2="380.4" y2="678.1" stroke="#111111" stroke-width="1.3" stroke-linecap="butt"/>
<line x1="379.79999999999995" y1="677.5" x2="472.5" y2="677.5" stroke="#111111" stroke-width="1.3" stroke-linecap="butt"/>
<line x1="376.9" y1="677.5" x2="380.4" y2="677.5" stroke="#111111" stroke-width="1.1" stroke-linecap="butt"/>
<text x="375.79999999999995" y="680.8" font-size="9.3" text-anchor="end" fill="#1a1a1a" >0</text>
<line x1="376.9" y1="654.5" x2="380.4" y2="654.5" stroke="#111111" stroke-width="1.1" stroke-linecap="butt"/>
<text x="375.79999999999995" y="657.8" font-size="9.3" text-anchor="end" fill="#1a1a1a" >20</text>
<line x1="376.9" y1="631.5" x2="380.4" y2="631.5" stroke="#111111" stroke-width="1.1" stroke-linecap="butt"/>
<text x="375.79999999999995" y="634.8" font-size="9.3" text-anchor="end" fill="#1a1a1a" >40</text>
<line x1="376.9" y1="608.5" x2="380.4" y2="608.5" stroke="#111111" stroke-width="1.1" stroke-linecap="butt"/>
<text x="375.79999999999995" y="611.8" font-size="9.3" text-anchor="end" fill="#1a1a1a" >60</text>
<line x1="376.9" y1="585.5" x2="380.4" y2="585.5" stroke="#111111" stroke-width="1.1" stroke-linecap="butt"/>
<text x="375.79999999999995" y="588.8" font-size="9.3" text-anchor="end" fill="#1a1a1a" >80</text>
<line x1="402" y1="677.5" x2="402" y2="681.0" stroke="#111111" stroke-width="1.1" stroke-linecap="butt"/>
<line x1="451.3" y1="677.5" x2="451.3" y2="681.0" stroke="#111111" stroke-width="1.1" stroke-linecap="butt"/>
<text x="401" y="691.3" font-size="9.2" text-anchor="middle" fill="#1a1a1a" textLength="38" lengthAdjust="spacingAndGlyphs" >AML cells</text>
<text x="450.6" y="691.3" font-size="9.2" text-anchor="middle" fill="#1a1a1a" textLength="24" lengthAdjust="spacingAndGlyphs" >T cells</text>
<text x="361.8" y="630" font-size="8.8" text-anchor="middle" fill="#1a1a1a" transform="rotate(-90 361.8 630)" textLength="88.7" lengthAdjust="spacingAndGlyphs" >% cells in bone marrow</text>
<path d="M389.5,597.4 H408.4 V658.8" stroke="#222" stroke-width="0.9" fill="none" stroke-linejoin="miter" stroke-linecap="butt"/>
<text x="400.6" y="600.2" font-size="13" text-anchor="middle" fill="#000" letter-spacing="0.6">**</text>
<rect x="386.3" y="556.3" width="10.7" height="6.7" fill="#0e2ef0" stroke="#1022a8" stroke-width="0.8"/>
<text x="402.5" y="562.8" font-size="9.2" text-anchor="start" fill="#1a1a1a" textLength="24.3" lengthAdjust="spacingAndGlyphs" >T cells</text>
<rect x="386.3" y="571.3" width="10.7" height="6.7" fill="#f03a22" stroke="#b82010" stroke-width="0.8"/>
<text x="402.5" y="578.6" font-size="9.2" text-anchor="start" fill="#1a1a1a" textLength="88.8" lengthAdjust="spacingAndGlyphs" >T + MSLN<tspan font-size="6.4" dy="-3.0">AMA</tspan><tspan dy="3.0">-CD3</tspan><tspan font-size="6.4" dy="-3.0">AMG</tspan></text>
</g>
</g>
</svg>
</body>
</html>
